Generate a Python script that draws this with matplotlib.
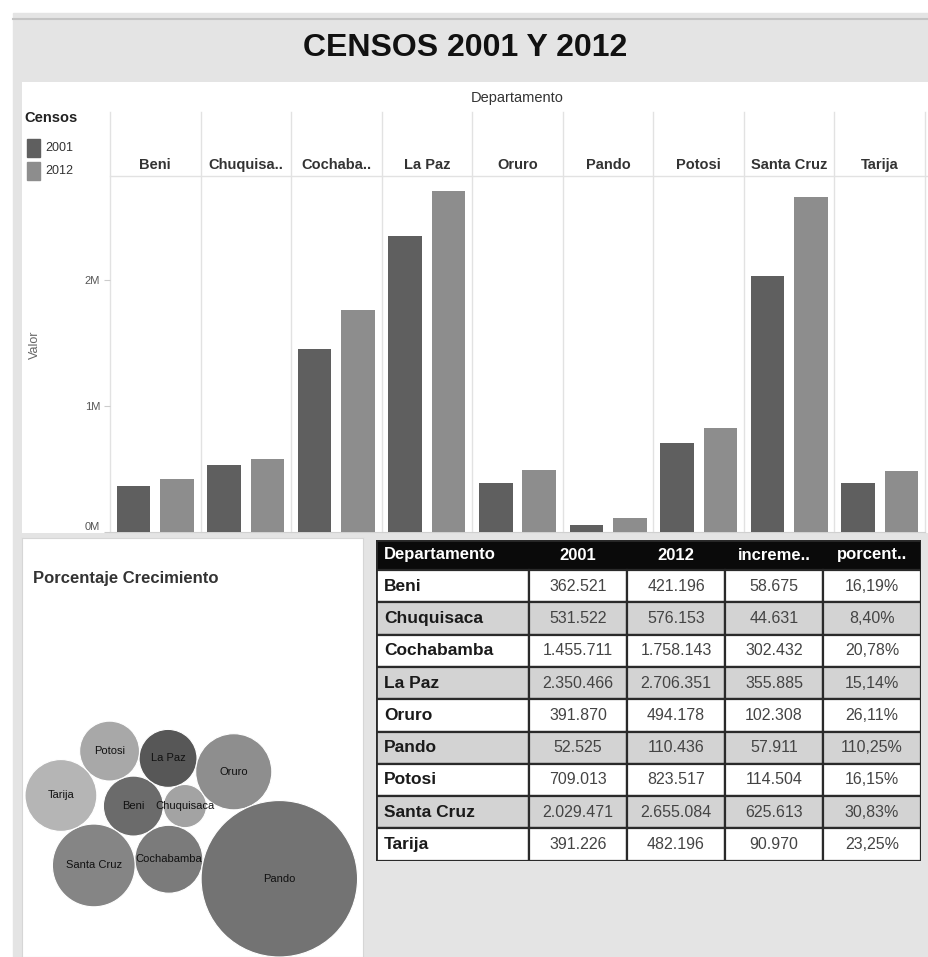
import numpy as np
import matplotlib
matplotlib.use("Agg")
import matplotlib.pyplot as plt  # noqa: E402
from matplotlib.patches import Rectangle, Circle  # noqa: E402
from matplotlib.transforms import blended_transform_factory  # noqa: E402

plt.rcParams['font.family'] = ['Liberation Sans', 'DejaVu Sans']

# ---- data ------------------------------------------------------------------
departamentos = ["Beni", "Chuquisaca", "Cochabamba", "La Paz", "Oruro",
                 "Pando", "Potosi", "Santa Cruz", "Tarija"]
facet_labels = ["Beni", "Chuquisa..", "Cochaba..", "La Paz", "Oruro",
                "Pando", "Potosi", "Santa Cruz", "Tarija"]
censo_2001 = [362521, 531522, 1455711, 2350466, 391870, 52525, 709013,
              2029471, 391226]
censo_2012 = [421196, 576153, 1758143, 2706351, 494178, 110436, 823517,
              2655084, 482196]
incremento = [58675, 44631, 302432, 355885, 102308, 57911, 114504, 625613,
              90970]
porcentaje = [16.19, 8.40, 20.78, 15.14, 26.11, 110.25, 16.15, 30.83, 23.25]
table_header = ["Departamento", "2001", "2012", "increme..", "porcent.."]
bubble_grey = ["#6b6b6b", "#a3a3a3", "#7b7b7b", "#575757", "#8e8e8e",
               "#737373", "#a8a8a8", "#858585", "#b5b5b5"]

C2001, C2012 = "#5f5f5f", "#8d8d8d"
W, H = 929, 957


def rect(x0, y0, x1, y1):
    """pixel box (top-left origin) -> figure fraction rect"""
    return [x0 / W, 1 - y1 / H, (x1 - x0) / W, (y1 - y0) / H]


def miles(n):
    return f"{n:,}".replace(",", ".")


# --- front-chain circle packing, y pointing down -----------------------------
def _place(b, a, c):
    dx, dy = b[0] - a[0], b[1] - a[1]
    d2 = dx * dx + dy * dy
    if d2:
        a2 = (a[2] + c[2]) ** 2
        b2 = (b[2] + c[2]) ** 2
        if a2 > b2:
            x = (d2 + b2 - a2) / (2 * d2)
            y = np.sqrt(max(0, b2 / d2 - x * x))
            c[0] = b[0] - x * dx - y * dy
            c[1] = b[1] - x * dy + y * dx
        else:
            x = (d2 + a2 - b2) / (2 * d2)
            y = np.sqrt(max(0, a2 / d2 - x * x))
            c[0] = a[0] + x * dx - y * dy
            c[1] = a[1] + x * dy + y * dx
    else:
        c[0], c[1] = a[0] + c[2], a[1]


def _intersects(a, b):
    dr = a[2] + b[2] - 1e-6
    dx, dy = b[0] - a[0], b[1] - a[1]
    return dr > 0 and dr * dr > dx * dx + dy * dy


def pack_siblings(radii):
    cs = [[0.0, 0.0, float(r)] for r in radii]
    n = len(cs)
    if n < 2:
        return cs
    # first two circles touch at the origin
    cs[0][0] = -cs[0][2]
    cs[1][0] = cs[1][2]
    if n == 2:
        return cs
    _place(cs[1], cs[0], cs[2])
    nxt, prv = {0: 1, 1: 2, 2: 0}, {0: 2, 1: 0, 2: 1}

    def score(i):
        a, b = cs[i], cs[nxt[i]]
        ab = a[2] + b[2]
        x = (a[0] * b[2] + b[0] * a[2]) / ab
        y = (a[1] * b[2] + b[1] * a[2]) / ab
        return x * x + y * y

    A, B = 0, 1
    i = 3
    while i < n:
        _place(cs[A], cs[B], cs[i])
        C = i
        j, k = nxt[B], prv[A]
        sj, sk = cs[B][2], cs[A][2]
        hit = False
        while True:
            if sj <= sk:
                if _intersects(cs[j], cs[C]):
                    B = j
                    nxt[A], prv[B] = B, A
                    hit = True
                    break
                sj += cs[j][2]
                j = nxt[j]
            else:
                if _intersects(cs[k], cs[C]):
                    A = k
                    nxt[A], prv[B] = B, A
                    hit = True
                    break
                sk += cs[k][2]
                k = prv[k]
            if j == nxt[k]:
                break
        if hit:
            continue
        prv[C], nxt[C] = A, B
        nxt[A] = C
        prv[B] = C
        # pick the chain pair whose contact point is nearest the origin
        best, best_s = A, score(A)
        c = nxt[A]
        while c != A:
            sc = score(c)
            if sc < best_s:
                best, best_s = c, sc
            c = nxt[c]
        A = best
        B = nxt[A]
        i += 1
    return cs


fig = plt.figure(figsize=(W / 100, H / 100), dpi=100, facecolor="white")

# dashboard background + title band
fig.patches.append(Rectangle((13 / W, 0), 1 - 13 / W, 1 - 13 / H,
                             transform=fig.transFigure, color="#e4e4e4",
                             zorder=-10))
fig.lines.append(plt.Line2D([13 / W, 1], [1 - 19 / H, 1 - 19 / H],
                            transform=fig.transFigure, color="#c4c4c4", lw=1.5))
fig.text(465 / W, 1 - 48 / H, "CENSOS 2001 Y 2012", ha="center", va="center",
         fontsize=23, fontweight="bold", color="#111111")

# ---- bar panel ---------------------------------------------------------------
panel = fig.add_axes(rect(22, 82, 929, 533))
panel.set_xlim(22, 929); panel.set_ylim(533, 82)
panel.set_facecolor("white"); panel.axis("off")
panel.add_patch(Rectangle((22, 82), 907, 451, facecolor="white",
                          edgecolor="none"))
panel.text(517, 98, "Departamento", ha="center", va="center", fontsize=10.5,
           color="#333333")
panel.text(24, 118, "Censos", ha="left", va="center", fontsize=10.5,
           fontweight="bold", color="#222222")
for yy, lab, c in ((148, "2001", C2001), (171, "2012", C2012)):
    panel.add_patch(Rectangle((27, yy - 9), 13, 18, color=c))
    panel.text(45, yy, lab, ha="left", va="center", fontsize=9, color="#333333")
panel.text(35, 345, "Valor", rotation=90, ha="center", va="center",
           fontsize=9, color="#666666")

ax = fig.add_axes(rect(110, 176, 925, 532))
ax.set_facecolor("none")
n = len(departamentos)
xs = np.arange(n)
bw = 0.37
ax.bar(xs + 0.26, censo_2001, bw, color=C2001, zorder=3)
ax.bar(xs + 0.74, censo_2012, bw, color=C2012, zorder=3)
ax.set_xlim(0, n)
ax.set_ylim(0, (532 - 176) / 126 * 1e6)
ax.set_xticks([])
ax.set_yticks([0, 1e6, 2e6])
ax.set_yticklabels(["0M", "1M", "2M"])
ax.get_yticklabels()[0].set_va("bottom")
ax.tick_params(axis="y", length=4, color="#cccccc", labelsize=8,
               labelcolor="#555555", pad=3)
for s in ax.spines.values():
    s.set_visible(False)
ax.spines["bottom"].set_visible(True)
ax.spines["bottom"].set_color("#d0d0d0")

top = (532 - 112) / (532 - 176)
lab_y = (532 - 165) / (532 - 176)
trans = blended_transform_factory(ax.transData, ax.transAxes)
for i in range(n + 1):
    ax.plot([i, i], [0, top], transform=trans, color="#e2e2e2", lw=1,
            clip_on=False, zorder=1)
ax.plot([0, n + 0.05], [1, 1], transform=trans, color="#e2e2e2",
        lw=1, clip_on=False)
for i, lab in enumerate(facet_labels):
    ax.text(i + 0.5, lab_y, lab, transform=trans, ha="center", va="center",
            fontsize=10.5, fontweight="bold", color="#333333")

# ---- bubble panel ------------------------------------------------------------
bx = fig.add_axes(rect(22, 538, 363, 957))
bx.set_facecolor("white")
for s in bx.spines.values():
    s.set_color("#d6d6d6")
bx.set_xticks([]); bx.set_yticks([])
fig.text(33 / W, 1 - 579 / H, "Porcentaje Crecimiento", ha="left",
         va="center", fontsize=12, fontweight="bold", color="#333333")

radii = np.sqrt(porcentaje)
circles = pack_siblings(radii)
for (cx, cy, r), name, col in zip(circles, departamentos, bubble_grey):
    bx.add_patch(Circle((cx, cy), r, facecolor=col, edgecolor="white",
                        lw=0.8))
    bx.text(cx, cy, name, ha="center", va="center", fontsize=8,
            color="#111111")
scale = 7.45  # px per sqrt(pct) unit
minx = min(c[0] - c[2] for c in circles)
maxy = max(c[1] + c[2] for c in circles)
bx.set_xlim(minx - 3 / scale, minx - 3 / scale + 341 / scale)
bx.set_ylim(maxy, maxy - 419 / scale)

# ---- table -------------------------------------------------------------------
tx = fig.add_axes(rect(376, 540, 921, 861))
tx.set_xlim(0, 545); tx.set_ylim(321, 0); tx.axis("off")
col_x = [0, 153, 251, 349, 447, 545]
row_h = 32.3
head_h = 30
tx.add_patch(Rectangle((0, 0), 545, head_h, color="#0a0a0a"))
for k, lab in enumerate(table_header):
    if k == 0:
        tx.text(col_x[0] + 8, head_h / 2, lab, ha="left", va="center",
                fontsize=12, fontweight="bold", color="white")
    else:
        tx.text((col_x[k] + col_x[k + 1]) / 2, head_h / 2, lab, ha="center",
                va="center", fontsize=12, fontweight="bold", color="white")
for r_i, dep in enumerate(departamentos):
    y0 = head_h + r_i * row_h
    bg = "#d3d3d3" if r_i % 2 else "white"
    vals = [miles(censo_2001[r_i]), miles(censo_2012[r_i]),
            miles(incremento[r_i]),
            f"{incremento[r_i] / censo_2001[r_i] * 100:.2f}%".replace(".", ",")]
    for k in range(5):
        tx.add_patch(Rectangle((col_x[k], y0), col_x[k + 1] - col_x[k], row_h,
                               facecolor=bg, edgecolor="#2a2a2a", lw=1.6))
    tx.text(col_x[0] + 8, y0 + row_h / 2, dep, ha="left", va="center",
            fontsize=12.5, fontweight="bold", color="#1a1a1a")
    for k, v in enumerate(vals, start=1):
        tx.text((col_x[k] + col_x[k + 1]) / 2, y0 + row_h / 2, v,
                ha="center", va="center", fontsize=11.5, color="#444444")
tx.add_patch(Rectangle((0, 0), 545, head_h + 9 * row_h, facecolor="none",
                       edgecolor="#2a2a2a", lw=2))

fig.savefig("out.png", dpi=100, facecolor=fig.get_facecolor())
